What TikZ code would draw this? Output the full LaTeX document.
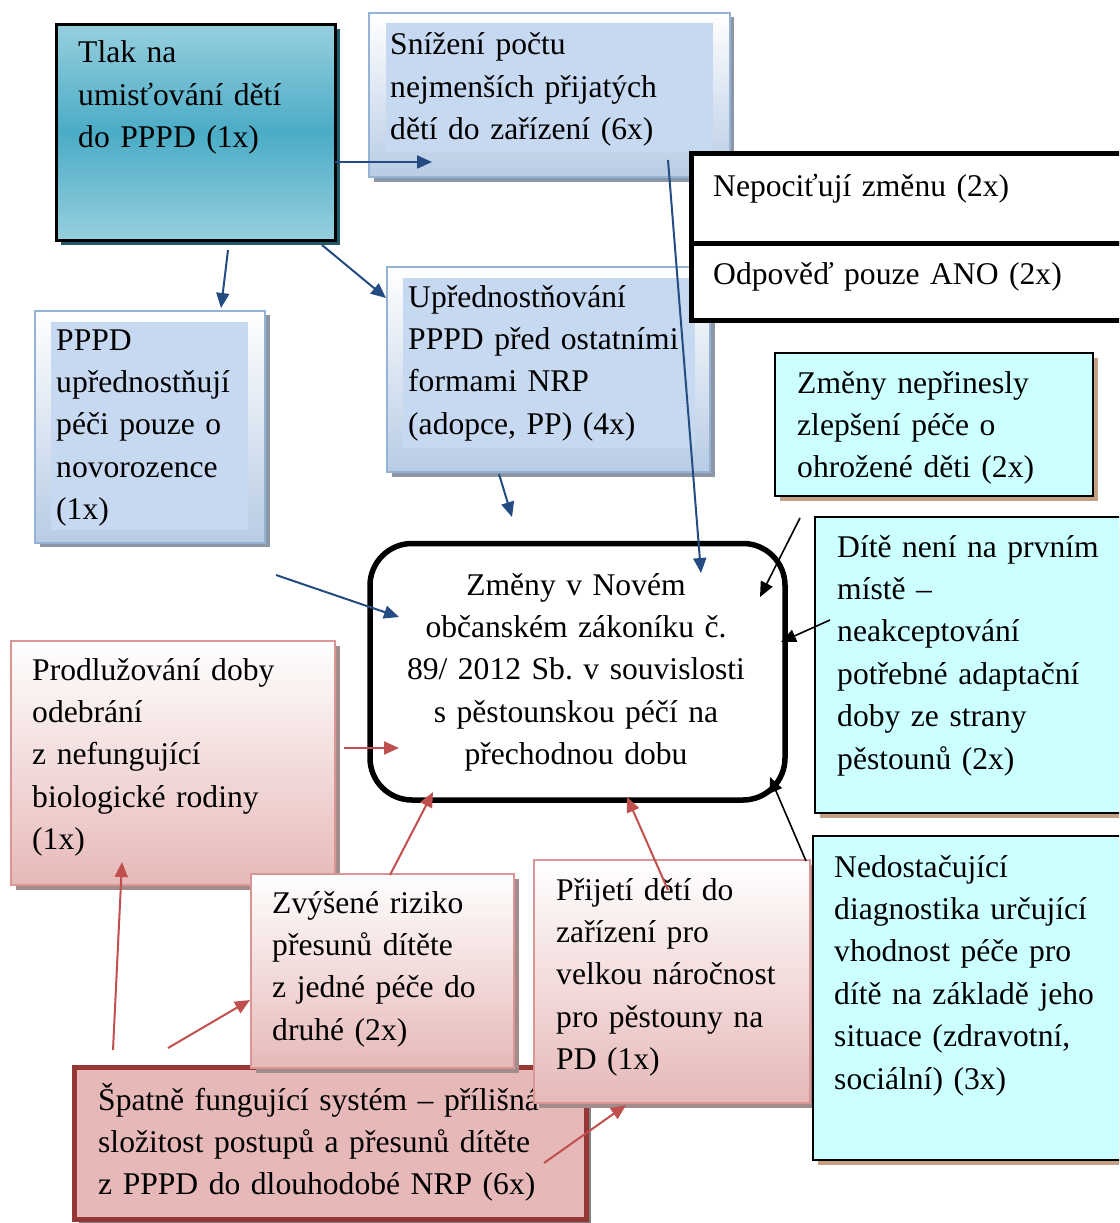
\documentclass[tikz,border=0pt]{standalone}
\usepackage{fontspec}
\setmainfont{Liberation Serif}
\frenchspacing
\usetikzlibrary{arrows.meta,shadows,fit}
\definecolor{tealA}{RGB}{150,207,222}
\definecolor{tealB}{RGB}{75,172,198}
\definecolor{tealSh}{RGB}{33,89,104}
\definecolor{blueBd}{RGB}{149,179,215}
\definecolor{blueBot}{RGB}{184,204,228}
\definecolor{blueIn}{RGB}{198,217,241}
\definecolor{blueSh}{RGB}{140,150,165}
\definecolor{pinkBd}{RGB}{217,150,148}
\definecolor{pinkBot}{RGB}{230,185,184}
\definecolor{pinkSh}{RGB}{165,140,140}
\definecolor{cyanF}{RGB}{204,255,255}
\definecolor{cyanSh}{RGB}{196,160,130}
\definecolor{darkRed}{RGB}{149,55,53}
\definecolor{grSh}{RGB}{128,128,128}
\definecolor{arrBlue}{RGB}{36,76,130}
\definecolor{arrRed}{RGB}{192,80,77}
\tikzset{
  fitbox/.style={rectangle, inner sep=0pt, outer sep=0pt},
  shad/.style={drop shadow={shadow xshift=4.5pt, shadow yshift=-4.5pt, opacity=1, fill=#1}},
  tealbox/.style={fitbox, draw=black, line width=3pt, top color=tealA, bottom color=tealA, middle color=tealB, shad=tealSh},
  bluebox/.style={fitbox, draw=blueBd, line width=2pt, top color=white, bottom color=blueBot, shad=blueSh},
  bluein/.style={fitbox, fill=blueIn},
  pinkbox/.style={fitbox, draw=pinkBd, line width=2pt, top color=white, bottom color=pinkBot, shad=pinkSh},
  cyanbox/.style={fitbox, draw=black, line width=2pt, fill=cyanF, shad=cyanSh},
  blackbox/.style={fitbox, draw=black, line width=5pt, fill=white},
  redbox/.style={fitbox, draw=darkRed, line width=5pt, fill=pinkBot, shad=grSh},
  centerbox/.style={fitbox, draw=black, line width=5.5pt, rounded corners=42pt, fill=white},
  txt/.style={anchor=base west, inner sep=0pt, text width=520pt, align=left, font=\fontsize{31.6}{42.4}\selectfont},
  ctxt/.style={anchor=base, inner sep=0pt, text width=420pt, align=center, font=\fontsize{31.6}{42.4}\selectfont},
  arr/.style={-{Triangle[length=15pt,width=13pt]}, line width=2pt},
  bluearr/.style={arr, draw=arrBlue},
  blackarr/.style={arr, draw=black, line width=1.6pt},
  redarr/.style={arr, draw=arrRed}
}
\begin{document}
\begin{tikzpicture}[x=1pt,y=-1pt]
\useasboundingbox (0,0) rectangle (1119,1223);
\clip (0,0) rectangle (1119,1223);
\fill[white] (0,0) rectangle (1119,1223);

% Tlak
\node (tlak) [tealbox, fit={(56.5,24.5) (335,240)}] {};
\node (tlakT) [txt] at (78,63) {Tlak na\\umisťování dětí\\do PPPD (1x)};

% Snizeni
\node (sniz) [bluebox, fit={(369,13) (729.5,177)}] {};
\node (snizIn) [bluein, fit={(386,23) (713,152)}] {};
\node (snizT) [txt] at (390,55) {Snížení počtu\\nejmenších přijatých\\dětí do zařízení (6x)};

% PPPD
\node (pppd) [bluebox, fit={(35,310.5) (265,542.5)}] {};
\node (pppdIn) [bluein, fit={(51,322) (248,530)}] {};
\node (pppdT) [txt] at (56,350) {PPPD\\upřednostňují\\péči pouze o\\novorozence\\(1x)};

% Upřednostňování
\node (upr) [bluebox, fit={(387,267) (710,472)}] {};
\node (uprIn) [bluein, fit={(403,278) (695,448)}] {};
\node (uprT) [txt] at (408,307) {Upřednostňování\\PPPD před ostatními\\formami NRP\\(adopce, PP) (4x)};

% Nepocituji / Odpoved
\node (nep1) [blackbox, fit={(691.5,153.5) (1135,243.5)}] {};
\node (nep2) [blackbox, fit={(691.5,243.5) (1135,320.5)}] {};
\node (nep1T) [txt] at (713,196) {Nepociťují změnu (2x)};
\node (nep2T) [txt] at (713,284) {Odpověď pouze ANO (2x)};

% Zmeny neprinesly
\node (zmen) [cyanbox, fit={(775,353) (1093,496)}] {};
\node (zmenT) [txt] at (797,393) {Změny nepřinesly\\zlepšení péče o\\ohrožené děti (2x)};

% Dite neni
\node (dite) [cyanbox, fit={(815,517) (1135,813)}] {};
\node (diteT) [txt] at (837,557) {Dítě není na prvním\\místě –\\neakceptování\\potřebné adaptační\\doby ze strany\\pěstounů (2x)};

% Center
\node (center) [centerbox, fit={(370,543.5) (785,800)}] {};
\node (centerT) [ctxt] at (576,595) {Změny v Novém\\občanském zákoníku č.\\89/ 2012 Sb. v souvislosti\\s pěstounskou péčí na\\přechodnou dobu};

% Prodluzovani
\node (prodl) [pinkbox, fit={(11,641) (335,885)}] {};
\node (prodlT) [txt] at (32,680) {Prodlužování doby\\odebrání\\z nefungující\\biologické rodiny\\(1x)};

% Spatne
\node (spat) [redbox, fit={(74,1067) (586,1219)}] {};
\node (spatT) [txt] at (98,1110) {Špatně fungující systém – přílišná\\složitost postupů a přesunů dítěte\\z PPPD do dlouhodobé NRP (6x)};

% Zvysene
\node (zvys) [pinkbox, fit={(251,874) (514,1068)}] {};
\node (zvysT) [txt] at (272,913) {Zvýšené riziko\\přesunů dítěte\\z jedné péče do\\druhé (2x)};

% Prijeti
\node (prij) [pinkbox, fit={(534,860) (810,1103)}] {};
\node (prijT) [txt] at (556,900) {Přijetí dětí do\\zařízení pro\\velkou náročnost\\pro pěstouny na\\PD (1x)};

% Nedostacujici
\node (nedo) [cyanbox, fit={(813,835.5) (1135,1160)}] {};
\node (nedoT) [txt] at (834,877) {Nedostačující\\diagnostika určující\\vhodnost péče pro\\dítě na základě jeho\\situace (zdravotní,\\sociální) (3x)};

% arrow end points
\coordinate (a1) at (335,162);  \coordinate (a2) at (432,162);
\coordinate (b1) at (228,250);  \coordinate (b2) at (221,308);
\coordinate (c1) at (322,245);  \coordinate (c2) at (386,298);
\coordinate (d1) at (499,474);  \coordinate (d2) at (512,517);
\coordinate (e1) at (668,160);  \coordinate (e2) at (701,573);
\coordinate (f1) at (276,575);  \coordinate (f2) at (399,617);
\coordinate (g1) at (800,518);  \coordinate (g2) at (760,597);
\coordinate (h1) at (830,620);  \coordinate (h2) at (781,642);
\coordinate (i1) at (806,861);  \coordinate (i2) at (770,777);
\coordinate (j1) at (344,748);  \coordinate (j2) at (399,748);
\coordinate (k1) at (113,1050); \coordinate (k2) at (122,862);
\coordinate (l1) at (168,1048); \coordinate (l2) at (250,1000);
\coordinate (m1) at (390,875);  \coordinate (m2) at (433,792);
\coordinate (n1) at (668,890);  \coordinate (n2) at (627,797);
\coordinate (o1) at (544,1163); \coordinate (o2) at (626,1105);

\draw[bluearr] (a1) -- (a2);
\draw[bluearr] (b1) -- (b2);
\draw[bluearr] (c1) -- (c2);
\draw[bluearr] (d1) -- (d2);
\draw[bluearr] (e1) -- (e2);
\draw[bluearr] (f1) -- (f2);
\draw[blackarr] (g1) -- (g2);
\draw[blackarr] (h1) -- (h2);
\draw[blackarr] (i1) -- (i2);
\draw[redarr] (j1) -- (j2);
\draw[redarr] (k1) -- (k2);
\draw[redarr] (l1) -- (l2);
\draw[redarr] (m1) -- (m2);
\draw[redarr] (n1) -- (n2);
\draw[redarr] (o1) -- (o2);
\end{tikzpicture}
\end{document}
